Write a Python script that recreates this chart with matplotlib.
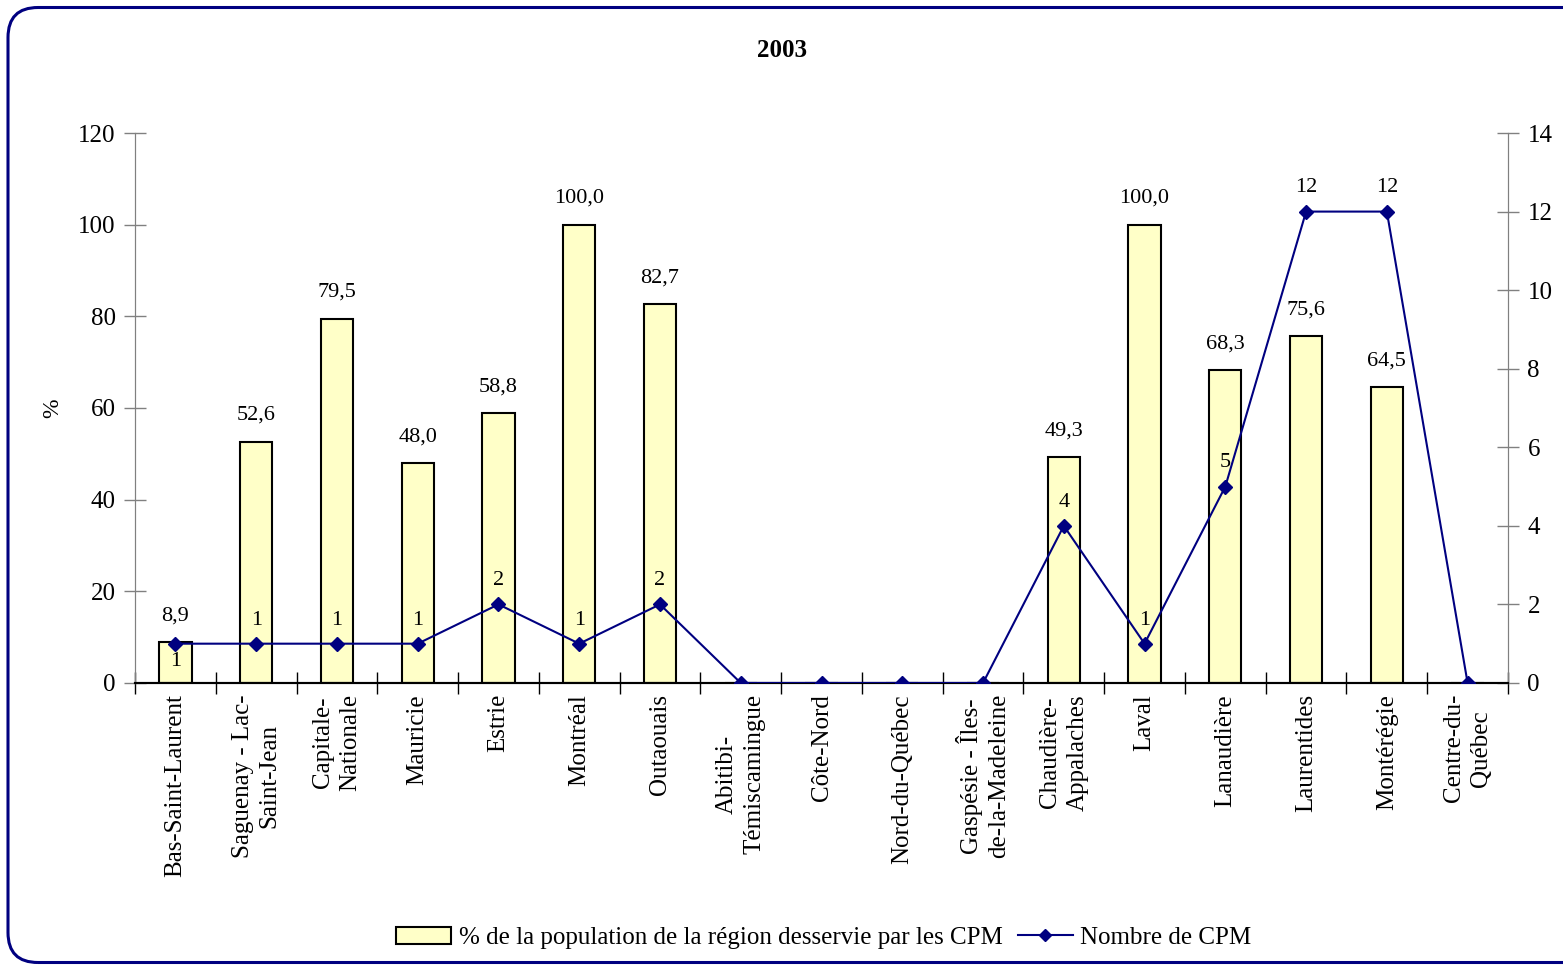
import numpy as np
import matplotlib.pyplot as plt
from matplotlib.patches import FancyBboxPatch, Patch
from matplotlib.lines import Line2D

plt.rcParams['font.family'] = ['Liberation Serif', 'DejaVu Serif']

# Données
regions = ['Bas-Saint-Laurent', 'Saguenay - Lac-\nSaint-Jean', 'Capitale-\nNationale',
           'Mauricie', 'Estrie', 'Montréal', 'Outaouais', 'Abitibi-\nTémiscamingue',
           'Côte-Nord', 'Nord-du-Québec', 'Gaspésie - Îles-\nde-la-Madeleine',
           'Chaudière-\nAppalaches', 'Laval', 'Lanaudière', 'Laurentides',
           'Montérégie', 'Centre-du-\nQuébec']
pct_pop = [8.9, 52.6, 79.5, 48.0, 58.8, 100.0, 82.7, 0, 0, 0, 0,
           49.3, 100.0, 68.3, 75.6, 64.5, 0]
nb_cpm = [1, 1, 1, 1, 2, 1, 2, 0, 0, 0, 0, 4, 1, 5, 12, 12, 0]

NAVY = '#000080'
BAR_COLOR = '#FFFFC8'

fig = plt.figure(figsize=(15.63, 9.66), dpi=100)
ax = fig.add_axes([0.0864, 0.293, 0.8784, 0.5693])
ax2 = ax.twinx()

x = np.arange(len(regions))
ax.bar(x, pct_pop, width=0.4, color=BAR_COLOR, edgecolor='black', linewidth=1.5, zorder=2)
ax2.plot(x, nb_cpm, color=NAVY, marker='D', markersize=7, linewidth=1.5, zorder=3)

ax.set_xlim(-0.5, len(regions) - 0.5)
ax.set_ylim(0, 120)
ax2.set_ylim(0, 14)
ax.set_yticks(range(0, 121, 20))
ax2.set_yticks(range(0, 15, 2))

# étiquettes des barres
for xi, v in zip(x, pct_pop):
    if v > 0:
        ax.annotate(f'{v:.1f}'.replace('.', ','), (xi, v), xytext=(0, 19),
                    textcoords='offset points', ha='center', va='center', fontsize=16)

# étiquettes de la courbe
for xi, v in zip(x, nb_cpm):
    if v > 0:
        dy = -13 if xi == 0 else 17
        ax2.annotate(str(v), (xi, v), xytext=(0, dy), textcoords='offset points',
                     ha='center', va='center', fontsize=16)

# axes
ax.set_xticks(x)
ax.set_xticklabels(regions, rotation=90, fontsize=18, va='top', ha='center', linespacing=1.3)
ax.set_xticks(np.arange(-0.5, len(regions)), minor=True)
ax.tick_params(axis='x', which='major', length=0, pad=8)
ax.tick_params(axis='x', which='minor', direction='inout', length=16, width=1, color='black')
ax.tick_params(axis='y', direction='inout', length=16, width=1, color='#808080', labelsize=18, pad=6)
ax2.tick_params(axis='y', direction='inout', length=16, width=1, color='#808080', labelsize=18, pad=6)

for a in (ax, ax2):
    a.spines['top'].set_visible(False)
    a.spines['left'].set_color('#808080')
    a.spines['right'].set_color('#808080')
    a.spines['bottom'].set_color('black')
    a.spines['bottom'].set_linewidth(1.5)

ax.set_ylabel('%', fontsize=17)
ax.yaxis.set_label_coords(-0.052, 0.5)

fig.text(0.5, 0.948, '2003', ha='center', va='center', fontsize=18, fontweight='bold')

handles = [Patch(facecolor=BAR_COLOR, edgecolor='black', linewidth=1.5),
           Line2D([], [], color=NAVY, marker='D', markersize=6, linewidth=1.5)]
fig.legend(handles, ['% de la population de la région desservie par les CPM', 'Nombre de CPM'],
           loc='center', bbox_to_anchor=(0.527, 0.029), ncol=2, frameon=False,
           fontsize=18, handlelength=2.2, handletextpad=0.3, columnspacing=0.6)

# cadre arrondi
border = FancyBboxPatch((0.08, 0.035), 16.0, 9.55, boxstyle='round,pad=0,rounding_size=0.3',
                        transform=fig.dpi_scale_trans, facecolor='none', edgecolor=NAVY,
                        linewidth=2.2, clip_on=False)
fig.patches.append(border)

fig.savefig('out.png', dpi=100)
